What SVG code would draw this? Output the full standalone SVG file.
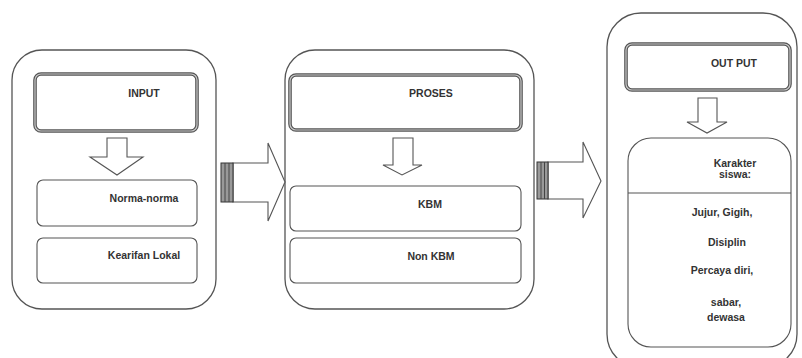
<svg xmlns="http://www.w3.org/2000/svg" width="802" height="358" viewBox="0 0 802 358">
<style>
.cont{fill:#fff;stroke:#555;stroke-width:1.3}
.hdr{fill:#fff;stroke:#555;stroke-width:3.6}
.hdr2{fill:none;stroke:#c8c8c8;stroke-width:1.2}
.box{fill:#fff;stroke:#555;stroke-width:1.1}
.arr{fill:#fff;stroke:#555;stroke-width:1.1;stroke-linejoin:miter}
.stripe{fill:#999;stroke:#333;stroke-width:1}
.sl{stroke:#444;stroke-width:1}
text{font-family:"Liberation Sans",Arial,sans-serif;font-size:10.5px;font-weight:bold;fill:#333;text-anchor:middle}
</style>
<rect width="802" height="358" fill="#fff"/>
<g id="input-group">
<rect class="cont" x="12" y="50" width="204" height="259" rx="30"/>
<g id="input">
<rect class="hdr" x="35" y="74" width="162" height="57" rx="6"/>
<rect class="hdr2" x="35" y="74" width="162" height="57" rx="6"/>
<text x="144" y="97">INPUT</text>
</g>
<g id="norma">
<rect class="box" x="37" y="180" width="160" height="46" rx="6"/>
<text x="144" y="202">Norma-norma</text>
</g>
<g id="kearifan">
<rect class="box" x="37" y="238" width="160" height="45" rx="6"/>
<text x="144" y="259">Kearifan Lokal</text>
</g>
</g>
<g id="proses-group">
<rect class="cont" x="285" y="50" width="249" height="259" rx="30"/>
<g id="proses">
<rect class="hdr" x="290" y="75" width="231" height="55" rx="6"/>
<rect class="hdr2" x="290" y="75" width="231" height="55" rx="6"/>
<text x="431" y="97">PROSES</text>
</g>
<g id="kbm">
<rect class="box" x="290" y="186" width="231" height="45" rx="6"/>
<text x="430" y="208">KBM</text>
</g>
<g id="nonkbm">
<rect class="box" x="290" y="238" width="231" height="45" rx="6"/>
<text x="431" y="260">Non KBM</text>
</g>
</g>
<g id="output-group">
<rect class="cont" x="607" y="13" width="190" height="355" rx="34"/>
<g id="output">
<rect class="hdr" x="626" y="44" width="164" height="46" rx="6"/>
<rect class="hdr2" x="626" y="44" width="164" height="46" rx="6"/>
<text x="734" y="67">OUT PUT</text>
</g>
<g id="karakter">
<rect class="box" x="628" y="138" width="163" height="209" rx="23"/>
<line x1="628" y1="193" x2="791" y2="193" stroke="#555" stroke-width="1.1"/>
<text x="735" y="167">Karakter</text>
<text x="735" y="178">siswa:</text>
<text x="722" y="216">Jujur, Gigih,</text>
<text x="727" y="246">Disiplin</text>
<text x="722" y="274">Percaya diri,</text>
<text x="726" y="306">sabar,</text>
<text x="726" y="321">dewasa</text>
</g>
</g>
<g id="connectors">
<polygon class="arr" points="107,138 127,138 127,157 143,157 117,175 90,157 107,157"/>
<polygon class="arr" points="393,138 413,138 413,165 422,165 402,175 383,165 393,165"/>
<polygon class="arr" points="698,98 717,98 717,122 727,122 707,133 687,122 698,122"/>
<polygon class="arr" points="233,163 268,163 268,143 285,182 268,221 268,202 233,202"/>
<rect class="stripe" x="221" y="163" width="12" height="39"/>
<line class="sl" x1="225" y1="163" x2="225" y2="202"/>
<line class="sl" x1="229" y1="163" x2="229" y2="202"/>
<polygon class="arr" points="548,162 583,162 583,142 601,181 583,218 583,199 548,199"/>
<rect class="stripe" x="537" y="162" width="11" height="37"/>
<line class="sl" x1="541" y1="162" x2="541" y2="199"/>
<line class="sl" x1="544.5" y1="162" x2="544.5" y2="199"/>
</g>
</svg>
